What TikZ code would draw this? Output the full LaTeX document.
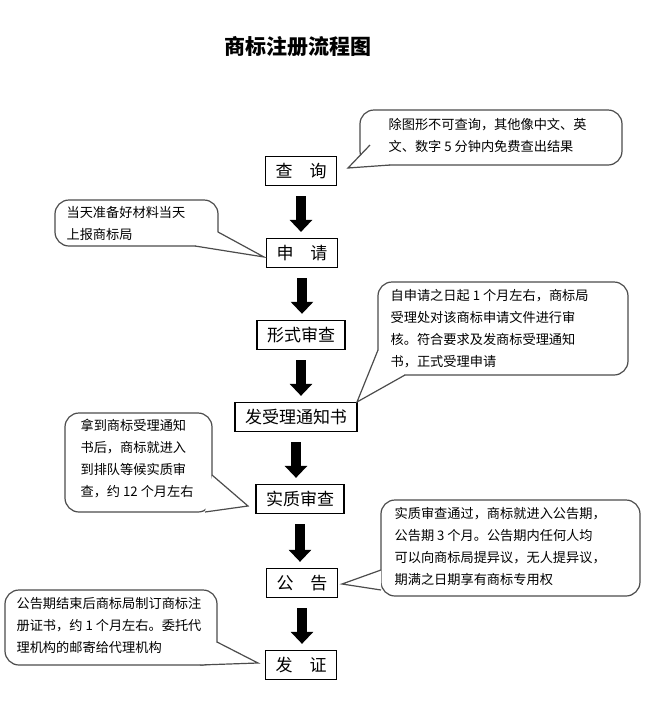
\documentclass[tikz,border=0pt]{standalone}
\usepackage{fontspec}
\setmainfont{Noto Sans CJK SC}
\usetikzlibrary{arrows.meta}
\tikzset{
	stepbox/.style={draw, line width=0.6pt, minimum height=13pt, inner xsep=5pt, font=\fontsize{8.5}{10}\selectfont},
	bubble/.style={draw=black!70, line width=0.6pt, rounded corners=7pt, fill=white, align=left, inner sep=0pt, font=\fontsize{6.6}{11}\selectfont},
	tail/.style={draw=black!70, line width=0.6pt, fill=white},
	bigarrow/.style={line width=5pt, -{Triangle[length=6pt,width=11pt]}, shorten >=3pt, shorten <=5pt}
}
\begin{document}
\begin{tikzpicture}[x=0.5pt, y=-0.5pt]
	\useasboundingbox (0,0) rectangle (659,703);
	% title
	\node (title) [font=\fontsize{10.5}{12}\selectfont\bfseries] at (298,47) {商标注册流程图};

	% steps
	\node (q)  [stepbox] at (301,171) {查\quad 询};
	\node (s)  [stepbox] at (302,253) {申\quad 请};
	\node (x)  [stepbox] at (301,335) {形式审查};
	\node (f)  [stepbox] at (296,417) {发受理通知书};
	\node (z)  [stepbox] at (300,499) {实质审查};
	\node (g)  [stepbox] at (302,583) {公\quad 告};
	\node (fz) [stepbox] at (301,665) {发\quad 证};

	\foreach \a/\b in {q/s, s/x, x/f, f/z, z/g, g/fz}
		\draw [bigarrow] (\a.south) -- (\a.south |- \b.north);

	% bubbles
	\draw [bubble] (360,110) rectangle (622,165);
	\node (c1) [bubble, draw=none, fill=none, anchor=north west] at (388,118) {除图形不可查询，其他像中文、英\\文、数字 5 分钟内免费查出结果};
	\coordinate (t1) at (348,168);
	\draw [tail] (370,145) -- (t1) -- (390,165);

	\draw [bubble] (55,200) rectangle (218,246);
	\node (c2) [bubble, draw=none, fill=none, anchor=north west] at (66,206) {当天准备好材料当天\\上报商标局};
	\coordinate (t2) at (264,257);
	\draw [tail] (195,246) -- (t2) -- (218,232);

	\draw [bubble] (378,282) rectangle (628,375);
	\node (c3) [bubble, draw=none, fill=none, anchor=north west] at (390,289) {自申请之日起 1 个月左右，商标局\\受理处对该商标申请文件进行审\\核。符合要求及发商标受理通知\\书，正式受理申请};
	\coordinate (t3) at (357,402);
	\draw [tail] (378,350) -- (t3) -- (405,375);

	\draw [bubble] (65,413) rectangle (212,512);
	\node (c4) [bubble, draw=none, fill=none, anchor=north west] at (80,419) {拿到商标受理通知\\书后，商标就进入\\到排队等候实质审\\查，约 12 个月左右};
	\coordinate (t4) at (248,506);
	\draw [tail] (212,475) -- (t4) -- (205,512);

	\draw [bubble] (381,500) rectangle (640,596);
	\node (c5) [bubble, draw=none, fill=none, anchor=north west] at (394,507) {实质审查通过，商标就进入公告期，\\公告期 3 个月。公告期内任何人均\\可以向商标局提异议，无人提异议，\\期满之日期享有商标专用权};
	\coordinate (t5) at (342,584);
	\draw [tail] (381,570) -- (t5) -- (381,590);

	\draw [bubble] (5,590) rectangle (217,665);
	\node (c6) [bubble, draw=none, fill=none, anchor=north west] at (16,597) {公告期结束后商标局制订商标注\\册证书，约 1 个月左右。委托代\\理机构的邮寄给代理机构};
	\coordinate (t6) at (258,663);
	\draw [tail] (200,665) -- (t6) -- (217,642);
\end{tikzpicture}
\end{document}
